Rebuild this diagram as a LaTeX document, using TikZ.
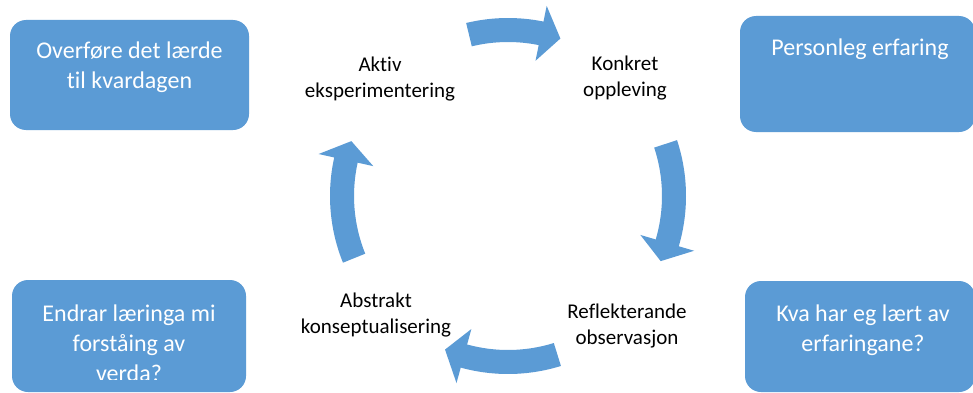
\documentclass[tikz,border=0pt]{standalone}
\usepackage{fontspec}
\setmainfont{Carlito}[Ligatures=NoCommon]
\definecolor{accent}{HTML}{5B9BD5}
\tikzset{
  panel/.style={fill=accent, rounded corners=16pt},
  paneltext/.style={text=white, font=\fontsize{24}{30}\selectfont, align=center, inner sep=0pt},
  stage/.style={text=black, font=\fontsize{21}{26}\selectfont, align=center, inner sep=0pt},
}
% curved block arrow on the cycle: tail angle, head-base angle, tip angle
\newcommand\cyclearrow[3]{%
  \fill[accent] (#1:178pt) arc[start angle=#1, end angle=#2, radius=178pt]
    -- (#2:194pt) -- (#3:166pt) -- (#2:138pt) -- (#2:154pt)
    arc[start angle=#2, end angle=#1, radius=154pt] -- cycle;}
\begin{document}
\begin{tikzpicture}[x=1pt,y=1pt]
\useasboundingbox (0,0) rectangle (973,392);
\clip (0,0) rectangle (973,392);
\fill[white] (0,0) rectangle (973,392);

% corner panels
\fill[panel] (10,262) rectangle (249,372);
\fill[panel] (740,260) rectangle (975,376);
\fill[panel] (12,0) rectangle (246,112);
\fill[panel] (745,0) rectangle (975,111);

\node[paneltext] (transfer) at (129.5,325) {Overføre det lærde\\til kvardagen};
\node[paneltext] (personal) at (860,343) {Personleg erfaring};
\begin{scope}
  % the last line runs past the text area of the panel
  \clip (12,12.5) rectangle (246,112);
  \node[paneltext] (worldview) at (129,49) {Endrar læringa mi\\forståing av\\verda?};
\end{scope}
\node[paneltext] (learned) at (863,62) {Kva har eg lært av\\erfaringane?};

% cycle stages
\node[stage] (active) at (380,313) {Aktiv\\eksperimentering};
\node[stage] (concrete) at (625,314) {Konkret\\oppleving};
\node[stage] (abstract) at (376,77) {Abstrakt\\konseptualisering};
\node[stage] (reflect) at (627,66) {Reflekterande\\observasjon};

% cycle arrows
\begin{scope}[shift={(508,196)}]
  \cyclearrow{103.6}{78.5}{71.6}
  \cyclearrow{18.3}{-16.4}{-23.1}
  \cyclearrow{-72.7}{-105.4}{-112.3}
  \cyclearrow{202}{167.5}{160.7}
\end{scope}
\end{tikzpicture}
\end{document}
